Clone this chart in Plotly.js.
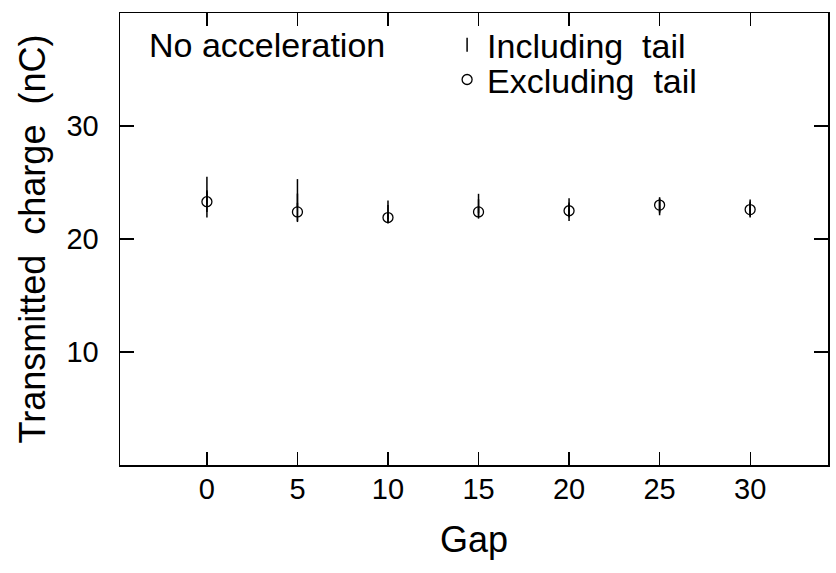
<!DOCTYPE html>
<html>
<head>
<meta charset="utf-8">
<script src="https://cdn.plot.ly/plotly-3.0.1.min.js"></script>
<style>html,body{margin:0;padding:0;background:#fff;}#chart{width:836px;height:573px;}</style>
</head>
<body>
<div id="chart"></div>
<script>
const gap = [0, 5, 10, 15, 20, 25, 30];
const inclTail = [23.7, 23.4, 22.4, 22.9, 22.6, 22.9, 22.7];
const inclErr = [1.8, 1.9, 1.0, 1.1, 1.0, 0.8, 0.8];
const exclTail = [23.3, 22.4, 21.9, 22.4, 22.5, 23.0, 22.6];
const exclErr = [0.9, 0.8, 0.5, 0.5, 0.6, 0.6, 0.6];
const xTicks = [0, 5, 10, 15, 20, 25, 30];
const yTicks = [10, 20, 30];

const font = "Liberation Sans, Arial, Helvetica, sans-serif";

const traces = [
  {
    x: gap, y: inclTail, type: 'scatter', mode: 'markers', name: 'Including  tail', legend: 'legend',
    marker: {symbol: 'line-ns-open', size: 10, color: '#000', line: {color: '#000', width: 1.5}},
    error_y: {type: 'data', array: inclErr, visible: true, color: '#000', thickness: 1.5, width: 0}
  },
  {
    x: gap, y: exclTail, type: 'scatter', mode: 'markers', name: 'Excluding  tail', legend: 'legend2',
    marker: {symbol: 'circle-open', size: 10, color: '#000', line: {color: '#000', width: 1.3}},
    error_y: {type: 'data', array: exclErr, visible: true, color: '#000', thickness: 1.5, width: 0}
  }
];

const legendBase = {
  xanchor: 'left', yanchor: 'middle',
  font: {size: 34, family: font, color: '#000'},
  bgcolor: 'rgba(0,0,0,0)', itemwidth: 30
};

const layout = {
  width: 836, height: 573,
  margin: {l: 120, r: 8, t: 13, b: 108},
  paper_bgcolor: '#fff', plot_bgcolor: '#fff',
  font: {family: font, color: '#000'},
  showlegend: true,
  legend: Object.assign({x: 0.462, y: 0.929}, legendBase),
  legend2: Object.assign({x: 0.462, y: 0.852}, legendBase),
  xaxis: {
    range: [-4.8, 34.3], tickmode: 'array', tickvals: xTicks, ticktext: xTicks.map(String),
    ticks: 'inside', ticklen: 13, tickwidth: 1.2, tickcolor: '#000',
    showline: true, linecolor: '#000', linewidth: 1.5, mirror: 'ticks',
    showgrid: false, zeroline: false, ticklabelstandoff: -2,
    tickfont: {size: 29, family: font},
    title: {text: 'Gap', font: {size: 36, family: font}, standoff: 22}
  },
  yaxis: {
    range: [0, 40], tickmode: 'array', tickvals: yTicks, ticktext: yTicks.map(String),
    ticks: 'inside', ticklen: 14, tickwidth: 1.2, tickcolor: '#000',
    showline: true, linecolor: '#000', linewidth: 1.5, mirror: 'ticks',
    showgrid: false, zeroline: false, ticklabelstandoff: 14,
    tickfont: {size: 29, family: font},
    title: {text: 'Transmitted  charge  (nC)', font: {size: 36, family: font}, standoff: 10}
  },
  annotations: [
    {text: 'No acceleration', xref: 'paper', yref: 'paper', x: 0.038, y: 0.929,
     xanchor: 'left', yanchor: 'middle', showarrow: false, font: {size: 34, family: font, color: '#000'}}
  ]
};

Plotly.newPlot('chart', traces, layout, {displayModeBar: false, staticPlot: true});
</script>
</body>
</html>
